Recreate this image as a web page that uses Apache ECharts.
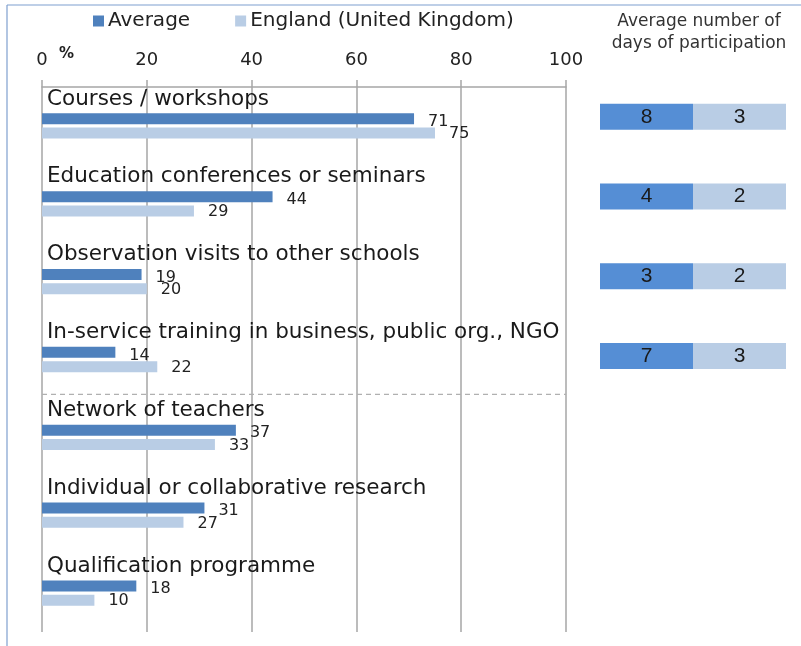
<!DOCTYPE html>
<html>
<head>
<meta charset="utf-8">
<script src="https://cdn.jsdelivr.net/npm/echarts@6/dist/echarts.min.js"></script>
<style>
  html, body { margin: 0; padding: 0; background: #fff; }
  #chart { width: 801px; height: 646px; }
</style>
</head>
<body>
<div id="chart"></div>
<script>
const categories = [
  'Courses / workshops',
  'Education conferences or seminars',
  'Observation visits to other schools',
  'In-service training in business, public org., NGO',
  'Network of teachers',
  'Individual or collaborative research',
  'Qualification programme'
]
const averageValues = [71, 44, 19, 14, 37, 31, 18]
const englandValues = [75, 29, 20, 22, 33, 27, 10]
// days of participation, only for the first four activities
const averageDays = [8, 4, 3, 7, null, null, null]
const englandDays = [3, 2, 2, 3, null, null, null]
const xTicks = [0, 20, 40, 60, 80, 100]

const labelFont = '"DejaVu Sans", sans-serif'
const boxFont = '"Liberation Sans", Arial, sans-serif'
const gridColor = '#a6a6a6'

const chart = echarts.init(document.getElementById('chart'))

// each day box has the same width, the number is shown as label
const boxAvg = averageDays.map(d => (d == null ? null : 1))
const boxEng = englandDays.map(d => (d == null ? null : 1))

const option = {
  animation: false,
  title: [
    {
      text: 'Average number of\ndays of participation',
      left: 694,
      top: 6,
      textAlign: 'center',
      textStyle: {
        fontFamily: labelFont,
        fontSize: 17,
        fontWeight: 'normal',
        color: '#333',
        lineHeight: 22
      }
    },
    {
      text: '%',
      left: 54,
      top: 42,
      textStyle: { fontFamily: labelFont, fontSize: 15, fontWeight: 'bold', color: '#222' }
    }
  ],
  legend: {
    left: 93,
    top: 11,
    padding: 0,
    itemWidth: 11,
    itemHeight: 11,
    itemGap: 45,
    icon: 'rect',
    data: ['Average', 'England (United Kingdom)'],
    textStyle: { fontFamily: labelFont, fontSize: 20, color: '#222', padding: [0, 0, 0, -1] }
  },
  grid: [
    { left: 42, right: 235, top: 87, bottom: 14 },
    { left: 600, right: 15, top: 77, height: 558 }
  ],
  xAxis: [
    {
      type: 'value',
      gridIndex: 0,
      position: 'top',
      min: 0,
      max: 100,
      interval: 20,
      axisLine: { show: true, lineStyle: { color: gridColor, width: 1.5 } },
      axisTick: { show: true, length: 7, lineStyle: { color: gridColor, width: 1.5 } },
      axisLabel: {
        margin: 18,
        fontFamily: labelFont,
        fontSize: 18,
        color: '#222',
        formatter: v => (xTicks.includes(v) ? String(v) : '')
      },
      splitLine: { show: true, lineStyle: { color: gridColor, width: 1.5 } }
    },
    {
      type: 'value',
      gridIndex: 1,
      min: 0,
      max: 2,
      show: false
    }
  ],
  yAxis: [
    {
      type: 'category',
      gridIndex: 0,
      inverse: true,
      data: categories,
      axisLine: { show: false },
      axisTick: { show: false },
      axisLabel: {
        inside: true,
        margin: 5,
        interval: 0,
        showMinLabel: true,
        showMaxLabel: true,
        hideOverlap: false,
        // second empty line pushes the name above its pair of bars
        formatter: v => '{t|' + v + '}\n{s|\u00a0}',
        rich: {
          t: { fontFamily: labelFont, fontSize: 21.5, color: '#1a1a1a', lineHeight: 24 },
          s: { fontSize: 10, lineHeight: 54, height: 54 }
        }
      }
    },
    {
      type: 'category',
      gridIndex: 1,
      inverse: true,
      data: categories,
      show: false
    }
  ],
  series: [
    {
      name: 'Average',
      type: 'bar',
      xAxisIndex: 0,
      yAxisIndex: 0,
      data: averageValues,
      barWidth: 11,
      barGap: '30%',
      itemStyle: { color: '#4f81bd' },
      label: {
        show: true,
        position: 'right',
        distance: 14,
        offset: [0, 3],
        fontFamily: labelFont,
        fontSize: 16,
        color: '#222'
      }
    },
    {
      name: 'England (United Kingdom)',
      type: 'bar',
      xAxisIndex: 0,
      yAxisIndex: 0,
      data: englandValues,
      barWidth: 11,
      itemStyle: { color: '#b9cde5' },
      label: {
        show: true,
        position: 'right',
        distance: 14,
        offset: [0, 1],
        fontFamily: labelFont,
        fontSize: 16,
        color: '#222'
      }
    },
    {
      name: 'daysAvg',
      type: 'bar',
      xAxisIndex: 1,
      yAxisIndex: 1,
      stack: 'days',
      data: boxAvg,
      barWidth: 26,
      itemStyle: { color: '#558ed5' },
      label: {
        show: true,
        position: 'inside',
        formatter: p => averageDays[p.dataIndex],
        fontFamily: boxFont,
        fontSize: 21,
        color: '#1a1a1a'
      }
    },
    {
      name: 'daysEng',
      type: 'bar',
      xAxisIndex: 1,
      yAxisIndex: 1,
      stack: 'days',
      data: boxEng,
      barWidth: 26,
      itemStyle: { color: '#b9cde5' },
      label: {
        show: true,
        position: 'inside',
        formatter: p => englandDays[p.dataIndex],
        fontFamily: boxFont,
        fontSize: 21,
        color: '#1a1a1a'
      }
    }
  ]
}

chart.setOption(option)

// dashed separator between the school-based and the network activities
const y3 = chart.convertToPixel({ gridIndex: 0 }, [0, 3])[1]
const y4 = chart.convertToPixel({ gridIndex: 0 }, [0, 4])[1]
const x0 = chart.convertToPixel({ gridIndex: 0 }, [0, 0])[0]
const x100 = chart.convertToPixel({ gridIndex: 0 }, [100, 0])[0]
const ySep = (y3 + y4) / 2 - 4

chart.setOption({
  graphic: [
    {
      type: 'line',
      shape: { x1: x0, y1: ySep, x2: x100, y2: ySep },
      style: { stroke: '#b0b0b0', lineWidth: 1.2, lineDash: [5, 4] }
    },
    {
      type: 'line',
      shape: { x1: 7, y1: 5, x2: 801, y2: 5 },
      style: { stroke: '#7f9fcf', lineWidth: 1.2 }
    },
    {
      type: 'line',
      shape: { x1: 7, y1: 5, x2: 7, y2: 646 },
      style: { stroke: '#7f9fcf', lineWidth: 1.2 }
    }
  ]
})
</script>
</body>
</html>
